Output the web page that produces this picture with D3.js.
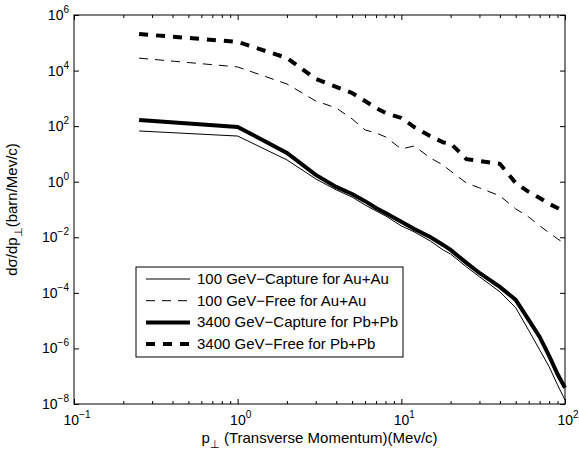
<!DOCTYPE html>
<html>
<head>
<meta charset="utf-8">
<script src="https://cdn.jsdelivr.net/npm/d3@7"></script>
<style>
  body { margin: 0; background: #fff; }
  svg text { font-family: "Liberation Sans", Arial, Helvetica, sans-serif; fill: #000; }
</style>
</head>
<body>
<div id="chart"></div>
<script>
var width = 579,
    height = 454;
var margin = {top: 15, right: 14, bottom: 50, left: 74},
    graphWidth = width - margin.left - margin.right,
    graphHeight = height - margin.top - margin.bottom;

// transverse momentum points (Mev/c)
var pT = [0.25, 1, 2, 3, 4, 5, 6, 7, 8, 10, 12, 15, 18, 20, 25, 30, 40, 50, 60, 70, 80, 90, 100];

// cross sections (barn/Mev/c)
var capAu = [67, 44, 6.1, 1.26, 0.51, 0.28, 0.146, 0.089, 0.059, 0.0257, 0.0156, 0.0074, 0.0035, 0.0025,
             8.6e-4, 3.8e-4, 1.09e-4, 2.9e-5, 4.5e-6, 8.9e-7, 2.2e-7, 4.9e-8, 1.4e-8];
var freeAu = [2.8e4, 1.35e4, 3.3e3, 805, 452, 182, 73, 57, 41, 15, 19.4, 7.2, 4.0, 2.4,
              0.9, 0.6, 0.31, 0.105, 0.054, 0.026, 0.0144, 0.0088, 0.0058];
var capPb = [167, 94, 10.9, 1.76, 0.65, 0.36, 0.2, 0.114, 0.075, 0.036, 0.02, 0.0103, 0.0053, 0.0035,
             1.2e-3, 5.2e-4, 1.64e-4, 5.6e-5, 1.07e-5, 2.6e-6, 5.4e-7, 1.2e-7, 3.8e-8];
var freePb = [2.07e5, 1.07e5, 2.84e4, 5.0e3, 2.57e3, 1.56e3, 805, 452, 299, 197, 93, 44, 26, 24,
              6.5, 5.6, 4.4, 0.9, 0.43, 0.26, 0.16, 0.114, 0.082];

var seriesNames = ["100 GeV\u2212Capture for Au+Au", "100 GeV\u2212Free for Au+Au",
                   "3400 GeV\u2212Capture for Pb+Pb", "3400 GeV\u2212Free for Pb+Pb"];
var seriesValues = [capAu, freeAu, capPb, freePb];
var seriesWidth = [1, 1, 4, 4];
var seriesDash = [null, "9,7", null, "9,8"];

var xTickExp = [-1, 0, 1, 2];
var yTickExp = [6, 4, 2, 0, -2, -4, -6, -8];

var svg = d3.select("#chart").append("svg")
  .attr("width", width)
  .attr("height", height);

svg.append("rect").attr("width", width).attr("height", height).attr("fill", "#fff");

var g = svg.append("g")
  .attr("transform", "translate(" + margin.left + "," + margin.top + ")");

var xScale = d3.scaleLog().domain([0.1, 100]).range([0, graphWidth]);
var yScale = d3.scaleLog().domain([1e-8, 1e6]).range([graphHeight, 0]);

// minor x ticks (2..9 of every decade)
var minorX = [];
[0.1, 1, 10].forEach(function(d) {
  for (var k = 2; k <= 9; k++) minorX.push(d * k);
});
var majorX = xTickExp.map(function(e) { return Math.pow(10, e); });
var majorY = yTickExp.map(function(e) { return Math.pow(10, e); });

function tickAxis(axis, cls, tr) {
  var a = g.append("g").attr("class", cls).attr("transform", tr).call(axis);
  a.select(".domain").remove();
  a.selectAll("line").attr("stroke", "#000").attr("stroke-width", 1);
  a.selectAll("text").remove();
  return a;
}

tickAxis(d3.axisBottom(xScale).tickValues(majorX).tickSize(-5).tickFormat(""), "x-major", "translate(0," + graphHeight + ")");
tickAxis(d3.axisBottom(xScale).tickValues(minorX).tickSize(-3).tickFormat(""), "x-minor", "translate(0," + graphHeight + ")");
tickAxis(d3.axisTop(xScale).tickValues(majorX).tickSize(-5).tickFormat(""), "x-major-top", "translate(0,0)");
tickAxis(d3.axisTop(xScale).tickValues(minorX).tickSize(-3).tickFormat(""), "x-minor-top", "translate(0,0)");
tickAxis(d3.axisLeft(yScale).tickValues(majorY).tickSize(-5).tickFormat(""), "y-major", "translate(0,0)");
tickAxis(d3.axisRight(yScale).tickValues(majorY).tickSize(-5).tickFormat(""), "y-major-right", "translate(" + graphWidth + ",0)");

// frame
g.append("rect")
  .attr("width", graphWidth)
  .attr("height", graphHeight)
  .attr("fill", "none")
  .attr("stroke", "#000")
  .attr("stroke-width", 1);

// tick labels with superscript powers
function powLabel(sel, e) {
  sel.append("tspan").attr("font-size", 14).text("10");
  sel.append("tspan").attr("font-size", 10).attr("dy", -7)
    .text(e < 0 ? "\u2212" + (-e) : String(e));
}

xTickExp.forEach(function(e) {
  var t = g.append("text")
    .attr("x", xScale(Math.pow(10, e)) + 3)
    .attr("y", graphHeight + 21)
    .attr("text-anchor", "middle");
  powLabel(t, e);
});
yTickExp.forEach(function(e) {
  var t = g.append("text")
    .attr("x", -5)
    .attr("y", yScale(Math.pow(10, e)) + 5)
    .attr("text-anchor", "end");
  powLabel(t, e);
});

// curves
var line = d3.line()
  .x(function(d) { return xScale(d[0]); })
  .y(function(d) { return yScale(d[1]); });

seriesValues.forEach(function(vals, i) {
  g.append("path")
    .datum(pT.map(function(p, j) { return [p, vals[j]]; }))
    .attr("fill", "none")
    .attr("stroke", "#000")
    .attr("stroke-width", seriesWidth[i])
    .attr("stroke-dasharray", seriesDash[i])
    .attr("d", line);
});

// axis titles
var xt = svg.append("text")
  .attr("x", margin.left + graphWidth / 2)
  .attr("y", 443)
  .attr("text-anchor", "middle")
  .attr("font-size", 15);
xt.append("tspan").text("p");
xt.append("tspan").attr("font-size", 11).attr("dy", 5).text("\u22a5");
xt.append("tspan").attr("dy", -5).text(" (Transverse Momentum)(Mev/c)");

var yt = svg.append("text")
  .attr("text-anchor", "middle")
  .attr("font-size", 15)
  .attr("transform", "translate(17," + (margin.top + graphHeight / 2) + ") rotate(-90)");
yt.append("tspan").text("d\u03c3/dp");
yt.append("tspan").attr("font-size", 11).attr("dy", 5).text("\u22a5");
yt.append("tspan").attr("dy", -5).text("(barn/Mev/c)");

// legend
var legend = svg.append("g").attr("transform", "translate(136,267)");
legend.append("rect")
  .attr("width", 267)
  .attr("height", 90)
  .attr("fill", "#fff")
  .attr("stroke", "#000")
  .attr("stroke-width", 1);
seriesNames.forEach(function(name, i) {
  var yy = 12 + i * 21.7;
  legend.append("line")
    .attr("x1", 10).attr("x2", 54)
    .attr("y1", yy).attr("y2", yy)
    .attr("stroke", "#000")
    .attr("stroke-width", seriesWidth[i])
    .attr("stroke-dasharray", seriesDash[i]);
  legend.append("text")
    .attr("x", 61)
    .attr("y", yy + 5)
    .attr("font-size", 15)
    .text(name);
});
</script>
</body>
</html>
